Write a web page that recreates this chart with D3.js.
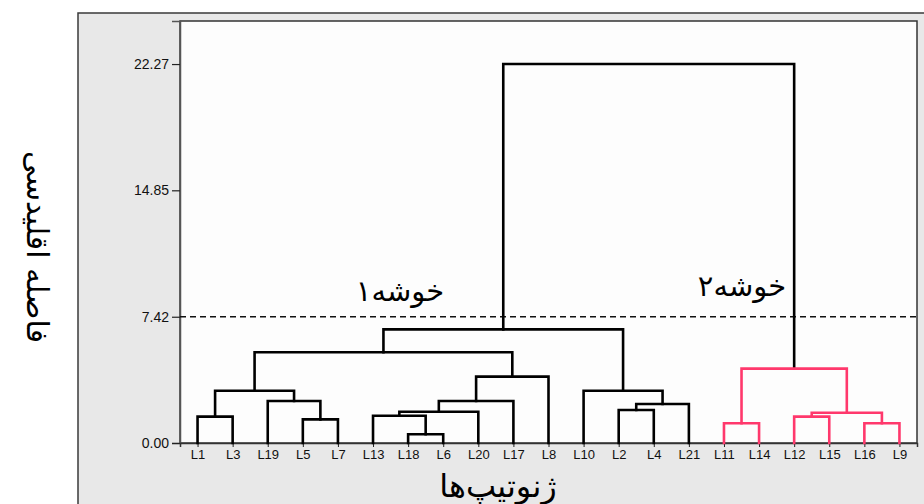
<!DOCTYPE html>
<html>
<head>
<meta charset="utf-8">
<script src="https://cdn.jsdelivr.net/npm/d3@7"></script>
<style>
  html, body { margin: 0; padding: 0; background: #fff; }
  svg { display: block; }
</style>
</head>
<body>
<svg id="chart" width="924" height="504"></svg>
<script>
'use strict';

// leaf order along the x axis
var leaves = ["L1", "L3", "L19", "L5", "L7", "L13", "L18", "L6", "L20", "L17", "L8",
  "L10", "L2", "L4", "L21", "L11", "L14", "L12", "L15", "L16", "L9"];

// merge steps: [left, right, distance]; "m#" points to an earlier merge
var merges = [
  ["L18", "L6", 0.51],   // m0
  ["L11", "L14", 1.16],  // m1
  ["L16", "L9", 1.16],   // m2
  ["L5", "L7", 1.39],    // m3
  ["L1", "L3", 1.55],    // m4
  ["L12", "L15", 1.55],  // m5
  ["L13", "m0", 1.60],   // m6
  ["m5", "m2", 1.78],    // m7
  ["m6", "L20", 1.84],   // m8
  ["L2", "L4", 1.94],    // m9
  ["m9", "L21", 2.29],   // m10
  ["L19", "m3", 2.47],   // m11
  ["m8", "L17", 2.47],   // m12
  ["m4", "m11", 3.07],   // m13
  ["L10", "m10", 3.07],  // m14
  ["m12", "L8", 3.90],   // m15
  ["m1", "m7", 4.37],    // m16  (cluster 2)
  ["m13", "m15", 5.33],  // m17
  ["m17", "m14", 6.68],  // m18  (cluster 1)
  ["m18", "m16", 22.27]  // m19  root
];

var yTicks = [0, 7.42, 14.85, 22.27];
var cutHeight = 7.42;
var clusterLabels = ["خوشه۱", "خوشه۲"];
var yTitle = "فاصله اقلیدسی";
var xTitle = "ژنوتیپ‌ها";

var plot = { left: 180, top: 21, right: 917, bottom: 443 },
  black = "#000",
  pink = "#ff386c",
  persian = "'DejaVu Sans', 'Noto Sans', sans-serif";

var svg = d3.select("#chart");

// grey panel behind the chart
svg.append("rect")
  .attr("x", 78).attr("y", 13)
  .attr("width", 900).attr("height", 520)
  .attr("fill", "#e8e8e8")
  .attr("stroke", "#3a3a3a")
  .attr("stroke-width", 1.5);

svg.append("rect")
  .attr("x", plot.left).attr("y", plot.top)
  .attr("width", plot.right - plot.left)
  .attr("height", plot.bottom - plot.top)
  .attr("fill", "#fdfdfd")
  .attr("stroke", "#333")
  .attr("stroke-width", 1.5);

var x = d3.scalePoint()
  .domain(leaves)
  .range([plot.left, plot.right])
  .padding(0.5);

var y = d3.scaleLinear()
  .domain([0, 24.8])
  .range([plot.bottom, plot.top]);

// build the tree from the merge list
var nodes = {};
leaves.forEach(function (name) {
  nodes[name] = { name: name, height: 0 };
});
merges.forEach(function (m, i) {
  nodes["m" + i] = { name: "m" + i, height: m[2], children: [nodes[m[0]], nodes[m[1]]] };
});

var root = d3.hierarchy(nodes["m" + (merges.length - 1)]);
root.eachAfter(function (d) {
  d.x = d.children ? d3.mean(d.children, function (c) { return c.x; }) : x(d.data.name);
});

var pinkSet = new Set();
root.each(function (d) {
  if (d.data.name === "m16") {
    d.each(function (c) { pinkSet.add(c); });
  }
});

// axes
var yAxis = svg.append("g")
  .attr("transform", "translate(" + plot.left + ",0)")
  .call(d3.axisLeft(y).tickValues(yTicks).tickFormat(d3.format(".2f")).tickSize(8).tickPadding(3));
yAxis.select(".domain").attr("stroke", "#555").attr("stroke-width", 1.5);
yAxis.selectAll(".tick line").attr("stroke", "#222").attr("stroke-width", 1.2);
yAxis.selectAll(".tick text")
  .attr("fill", "#111")
  .style("font-family", "'Liberation Sans', Arial, sans-serif")
  .style("font-size", "14px");

var xAxis = svg.append("g")
  .attr("transform", "translate(0," + plot.bottom + ")")
  .call(d3.axisBottom(x).tickSize(4).tickPadding(3));
xAxis.select(".domain").attr("stroke", "#333").attr("stroke-width", 1.5);
xAxis.selectAll(".tick line").attr("stroke", "#222");
xAxis.selectAll(".tick text")
  .attr("fill", "#111")
  .style("font-family", "'Liberation Sans', Arial, sans-serif")
  .style("font-size", "13px");

// cut line
svg.append("line")
  .attr("x1", plot.left).attr("x2", plot.right)
  .attr("y1", y(cutHeight)).attr("y2", y(cutHeight))
  .attr("stroke", "#111")
  .attr("stroke-width", 1.4)
  .attr("stroke-dasharray", "6,4");

// dendrogram links
svg.append("g")
  .selectAll("path")
  .data(root.descendants().filter(function (d) { return d.children; }))
  .join("path")
  .attr("d", function (d) {
    var a = d.children[0], b = d.children[1];
    return "M" + a.x + "," + y(a.data.height) +
      "V" + y(d.data.height) +
      "H" + b.x +
      "V" + y(b.data.height);
  })
  .attr("fill", "none")
  .attr("stroke", function (d) { return pinkSet.has(d) ? pink : black; })
  .attr("stroke-width", 2.6)
  .attr("stroke-linejoin", "miter")
  .attr("stroke-linecap", "square");

// cluster labels
svg.append("text")
  .attr("x", 400).attr("y", y(cutHeight) - 16)
  .attr("text-anchor", "middle")
  .style("font-family", persian)
  .style("font-size", "29px")
  .text(clusterLabels[0]);

svg.append("text")
  .attr("x", 742).attr("y", y(cutHeight) - 21)
  .attr("text-anchor", "middle")
  .style("font-family", persian)
  .style("font-size", "29px")
  .text(clusterLabels[1]);

// titles
svg.append("text")
  .attr("transform", "translate(27,247) rotate(90)")
  .attr("text-anchor", "middle")
  .style("font-family", persian)
  .style("font-size", "30px")
  .text(yTitle);

svg.append("text")
  .attr("x", 498).attr("y", 497)
  .attr("text-anchor", "middle")
  .style("font-family", persian)
  .style("font-size", "32px")
  .text(xTitle);
</script>
</body>
</html>
